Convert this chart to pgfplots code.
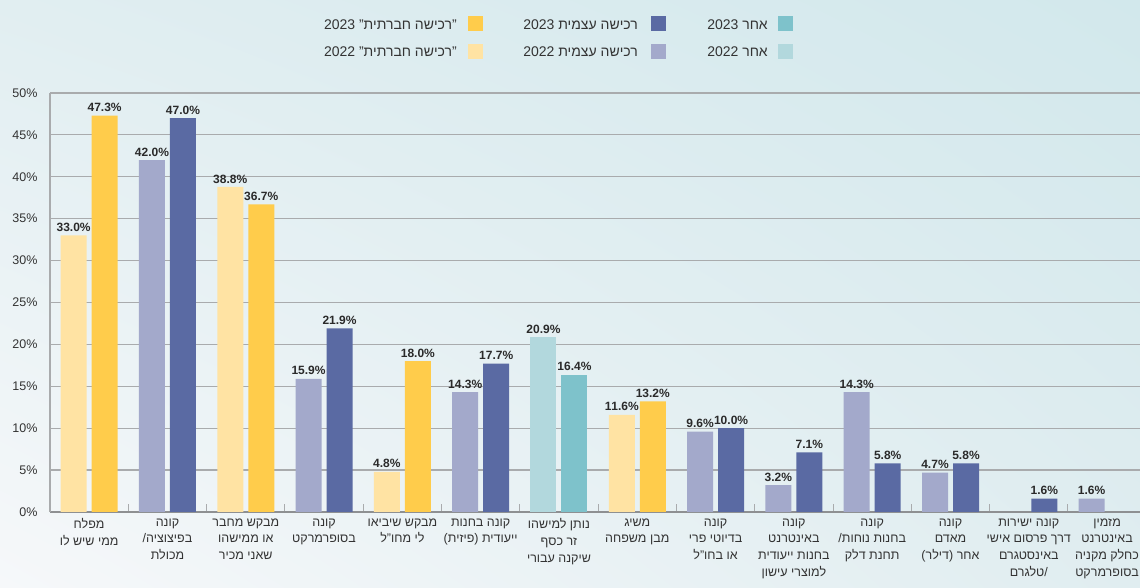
\documentclass[border=0pt]{standalone}
\usepackage{fontspec}
\setmainfont[Script=Hebrew]{Liberation Sans}
\TeXXeTstate=1
\usepackage{pgfplots}
\pgfplotsset{compat=1.18}
\usetikzlibrary{shadings}

\definecolor{soc22}{HTML}{FFE3A3}
\definecolor{soc23}{HTML}{FFCC4B}
\definecolor{self22}{HTML}{A3A9CB}
\definecolor{self23}{HTML}{5A6AA3}
\definecolor{oth22}{HTML}{B2D8DD}
\definecolor{oth23}{HTML}{7EC2CB}
\definecolor{gridgray}{HTML}{A9ABAD}
\definecolor{axisgray}{HTML}{8E9092}
\definecolor{txt}{HTML}{333333}
\definecolor{labtxt}{HTML}{2A2A2A}
\definecolor{bgA}{HTML}{E1EEF1}
\definecolor{bgB}{HTML}{D2E8EC}
\definecolor{bgC}{HTML}{F6F8FA}
\definecolor{bgD}{HTML}{E0EDF0}

\begin{document}
\begin{tikzpicture}[x=1pt,y=1pt]
\shade[upper left=bgA, upper right=bgB, lower left=bgC, lower right=bgD] (0,0) rectangle (1140,588);
\path[use as bounding box] (0,0) rectangle (1140,588);

% legend (right to left)
\begin{scope}[every node/.style={anchor=base east, inner sep=0pt, text=txt, font=\fontsize{14}{16}\selectfont}]
\fill[oth23]  (778,557) rectangle ++(15,15);
\fill[oth22]  (778,529) rectangle ++(15,15);
\fill[self23] (651,557) rectangle ++(15,15);
\fill[self22] (651,529) rectangle ++(15,15);
\fill[soc23]  (468,557) rectangle ++(15,15);
\fill[soc22]  (468,529) rectangle ++(15,15);
\node at (768,558.7) {\beginR אחר 2023\endR};
\node at (768,531.3) {\beginR אחר 2022\endR};
\node at (638,558.7) {\beginR רכישה עצמית 2023\endR};
\node at (638,531.3) {\beginR רכישה עצמית 2022\endR};
\node at (457,558.7) {\beginR ”\kern0pt רכישה חברתית\kern0pt" 2023\endR};
\node at (457,531.3) {\beginR ”\kern0pt רכישה חברתית\kern0pt" 2022\endR};
\end{scope}

\begin{axis}[
  at={(50pt,76pt)}, anchor=south west,
  scale only axis, width=1090pt, height=419pt,
  xmin=-0.5, xmax=13.42, ymin=0, ymax=50,
  ybar, bar width=26pt,
  axis lines*=left,
  x axis line style={draw=axisgray, line width=1.6pt},
  y axis line style={draw=gridgray, line width=1.2pt},
  ymajorgrids, major grid style={draw=gridgray, line width=1.2pt},
  ytick={0,5,...,50},
  yticklabel={\pgfmathprintnumber{\tick}\%},
  /pgf/number format/assume math mode=true,
  yticklabel style={font=\fontsize{12.5}{14}\selectfont, text=txt, xshift=-9pt},
  xtick={0,...,13},
  minor xtick={-0.5,0.5,...,12.5},
  major tick length=0pt, minor tick length=8pt, tick align=inside,
  minor x tick style={draw=gridgray, line width=1pt},
  xticklabel style={font=\fontsize{12.5}{16.7}\selectfont, text=txt, align=center, yshift=-3pt},
  xticklabels={
    {\beginR מפלח\endR\\\beginR ממי שיש לו\endR},
    {\beginR קונה\endR\\/\beginR בפיצוציה\endR\\\beginR מכולת\endR},
    {\beginR מבקש מחבר\endR\\\beginR או ממישהו\endR\\\beginR שאני מכיר\endR},
    {\beginR קונה\endR\\\beginR בסופרמרקט\endR},
    {\beginR מבקש שיביאו\endR\\\beginR לי מחו"ל\endR},
    {\beginR קונה בחנות\endR\\\beginR ייעודית (פיזית)\endR},
    {\beginR נותן למישהו\endR\\\beginR זר כסף\endR\\\beginR שיקנה עבורי\endR},
    {\beginR משיג\endR\\\beginR מבן משפחה\endR},
    {\beginR קונה\endR\\\beginR בדיוטי פרי\endR\\\beginR או בחו"ל\endR},
    {\beginR קונה\endR\\\beginR באינטרנט\endR\\\beginR בחנות ייעודית\endR\\\beginR למוצרי עישון\endR},
    {\beginR קונה\endR\\/\beginR בחנות נוחות\endR\\\beginR תחנת דלק\endR},
    {\beginR קונה\endR\\\beginR מאדם\endR\\\beginR אחר (דילר)\endR},
    {\beginR קונה ישירות\endR\\\beginR דרך פרסום אישי\endR\\\beginR באינסטגרם\endR\\\beginR טלגרם\endR/},
    {\beginR מזמין\endR\\\beginR באינטרנט\endR\\\beginR כחלק מקניה\endR\\\beginR בסופרמרקט\endR}
  },
  nodes near coords={\pgfmathprintnumber[fixed,fixed zerofill,precision=1]{\pgfplotspointmeta}\%},
  nodes near coords style={font=\bfseries\fontsize{12}{14}\selectfont, text=labtxt, inner sep=1.5pt, yshift=2pt},
  clip=false,
]
% "social purchase" 2022 / 2023
\addplot[fill=soc22, draw=none, bar shift=-15.5pt] coordinates {(0,33.0) (2,38.8) (4,4.8) (7,11.6)};
\addplot[fill=soc23, draw=none, bar shift=15.5pt] coordinates {(0,47.3) (2,36.7) (4,18.0) (7,13.2)};
% self purchase 2022 / 2023
\addplot[fill=self22, draw=none, bar shift=-15.5pt] coordinates {(1,42.0) (3,15.9) (5,14.3) (8,9.6) (9,3.2) (10,14.3) (11,4.7) (13,1.6)};
\addplot[fill=self23, draw=none, bar shift=15.5pt] coordinates {(1,47.0) (3,21.9) (5,17.7) (8,10.0) (9,7.1) (10,5.8) (11,5.8) (12,1.6)};
% other 2022 / 2023
\addplot[fill=oth22, draw=none, bar shift=-15.5pt] coordinates {(6,20.9)};
\addplot[fill=oth23, draw=none, bar shift=15.5pt] coordinates {(6,16.4)};
\end{axis}
\end{tikzpicture}
\end{document}
